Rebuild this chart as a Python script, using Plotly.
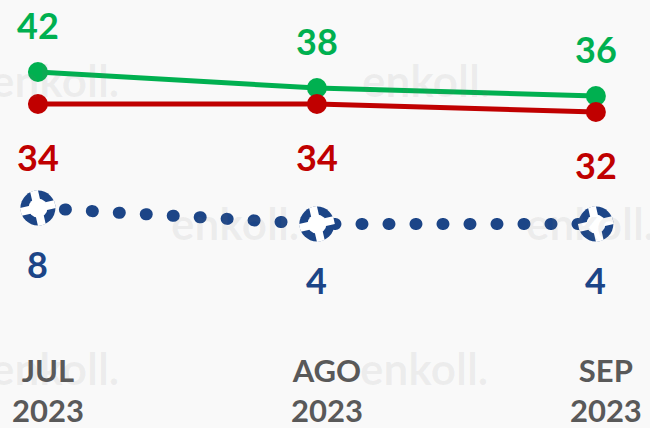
import plotly.graph_objects as go

# ---- data ----
months = ["JUL<br>2023", "AGO<br>2023", "SEP<br>2023"]
green_vals = [42, 38, 36]
red_vals = [34, 34, 32]
blue_vals = [8, 4, 4]

GREEN = "#00b050"
RED = "#c00000"
BLUE = "#1c4587"
BG = "#f9f9f9"
FONT = "Lato"

fig = go.Figure()

# faint watermark (drawn first)
for wx, wy in [(0.085, 0.771), (0.655, 0.771), (0.362, 0.363), (0.908, 0.363),
               (0.085, -0.051), (0.652, -0.051)]:
    fig.add_annotation(xref="paper", yref="paper", x=wx, y=wy, xanchor="center", yanchor="middle",
                       text="<b>enkoll.</b>", showarrow=False,
                       font=dict(family=FONT, size=44, color="rgba(120,120,120,0.09)"))

fig.add_trace(go.Scatter(x=months, y=green_vals, mode="lines+markers",
                         line=dict(color=GREEN, width=5),
                         marker=dict(color=GREEN, size=20), cliponaxis=False))
fig.add_trace(go.Scatter(x=months, y=red_vals, mode="lines+markers",
                         line=dict(color=RED, width=5),
                         marker=dict(color=RED, size=20), cliponaxis=False))
# dotted blue line
fig.add_trace(go.Scatter(x=months, y=blue_vals, mode="lines",
                         line=dict(color=BLUE, width=12, dash="1px,26px"),
                         cliponaxis=False))
# pinwheel-like dashed circle markers
fig.add_trace(go.Scatter(x=months, y=blue_vals, mode="markers",
                         marker=dict(color=BLUE, size=35), cliponaxis=False))
fig.add_trace(go.Scatter(x=months, y=blue_vals, mode="markers",
                         marker=dict(symbol="cross-thin", size=25, angle=-13, color="white",
                                     line=dict(color="white", width=8)),
                         cliponaxis=False))
fig.add_trace(go.Scatter(x=months, y=blue_vals, mode="markers",
                         marker=dict(color="white", size=19), cliponaxis=False))

# value labels
for vals, color, shift in [(green_vals, GREEN, 47), (red_vals, RED, -53), (blue_vals, BLUE, -56)]:
    for m, v in zip(months, vals):
        fig.add_annotation(x=m, y=v, text=f"<b>{v}</b>", showarrow=False,
                           yshift=shift, font=dict(family=FONT, size=36, color=color))

fig.update_layout(
    width=650, height=428,
    margin=dict(l=0, r=0, t=0, b=78),
    paper_bgcolor=BG, plot_bgcolor=BG,
    showlegend=False,
    font=dict(family=FONT),
    xaxis=dict(range=[-0.136, 2.194], showgrid=False, zeroline=False, showline=False,
               ticks="", tickfont=dict(family=FONT, size=31, color="#595959", weight="bold"),
               ticklabelshift=10),
    yaxis=dict(range=[-27.5, 60], visible=False, showgrid=False, zeroline=False),
)

post = """
document.body.style.margin = '0';
document.body.style.background = '#f9f9f9';
document.querySelectorAll('.scatterlayer .trace').forEach(function(t, i){
  if (i === 2) { t.querySelectorAll('path.js-line').forEach(function(p){ p.style.strokeLinecap = 'round'; }); }
});
"""
fig.write_html("out.html", post_script=post, config={"displayModeBar": False})
